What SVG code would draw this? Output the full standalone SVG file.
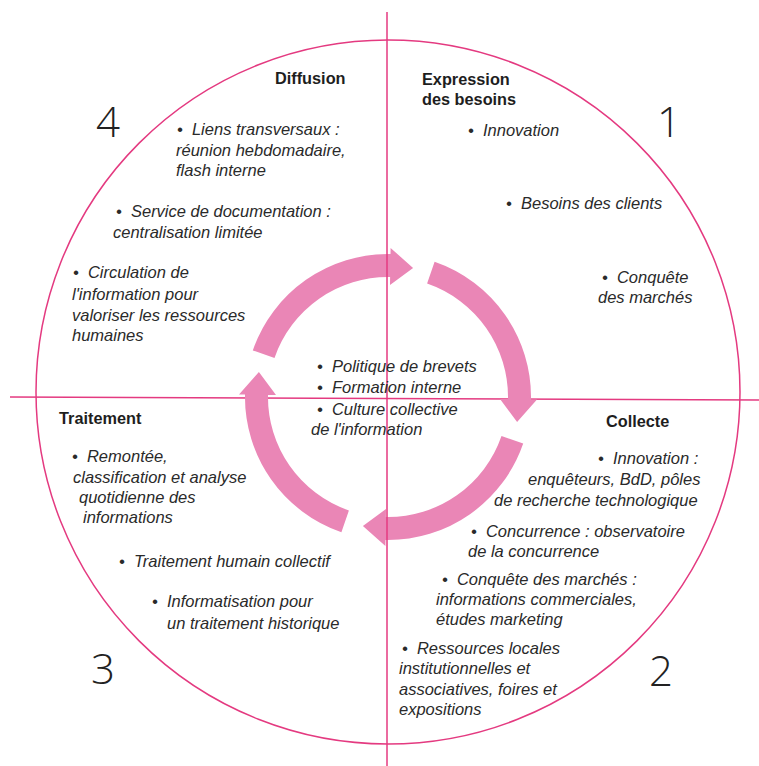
<svg xmlns="http://www.w3.org/2000/svg" xmlns:xlink="http://www.w3.org/1999/xlink" width="759" height="766" viewBox="0 0 759 766">
<style>
.t{font-family:"Liberation Sans",Arial,sans-serif;font-size:16.5px;font-style:italic;fill:#2a2a2a}
.h{font-family:"Liberation Sans",Arial,sans-serif;font-size:16.3px;font-weight:bold;fill:#1e1e1e}
.n{font-family:"Open Sans","Liberation Sans",sans-serif;font-size:42px;font-weight:300;fill:#222}
.ln{stroke:#e43a80;stroke-width:1.5;fill:none}
.arr{fill:#ea86b6}
</style>
<defs>
<path id="arr" d="M 252.8 350.4 A 143 143 0 0 1 390.5 254.0 L 390.6 248.0 L 413.1 267.9 L 390.0 285.0 L 390.1 277.0 A 120 120 0 0 0 274.5 357.9 Z"/>
</defs>
<rect width="759" height="766" fill="#fff"/>
<g id="frame">
<circle class="ln" cx="388" cy="392" r="352"/>
<line class="ln" x1="10" y1="397" x2="759" y2="400"/>
</g>
<g id="connectors">
<use xlink:href="#arr" class="arr"/>
<use xlink:href="#arr" class="arr" transform="rotate(90 388 397)"/>
<use xlink:href="#arr" class="arr" transform="rotate(180 388 397)"/>
<use xlink:href="#arr" class="arr" transform="rotate(270 388 397)"/>
</g>
<g id="axis">
<line class="ln" x1="387" y1="12" x2="387" y2="766"/>
</g>
<g id="q1">
<text class="h" x="422" y="85">Expression</text>
<text class="h" x="422" y="105">des besoins</text>
<text class="n" x="657" y="137">1</text>
<text class="t" x="468" y="136" xml:space="preserve">•  Innovation</text>
<text class="t" x="506" y="209" xml:space="preserve">•  Besoins des clients</text>
<text class="t" x="602" y="283" xml:space="preserve">•  Conquête</text>
<text class="t" x="598" y="303">des marchés</text>
</g>
<g id="q2">
<text class="h" x="606" y="427">Collecte</text>
<text class="n" x="649" y="686">2</text>
<text class="t" x="598" y="464" xml:space="preserve">•  Innovation :</text>
<text class="t" x="528" y="485">enquêteurs, BdD, pôles</text>
<text class="t" x="494" y="506">de recherche technologique</text>
<text class="t" x="471" y="537" xml:space="preserve">•  Concurrence : observatoire</text>
<text class="t" x="468" y="557">de la concurrence</text>
<text class="t" x="442" y="585" xml:space="preserve">•  Conquête des marchés :</text>
<text class="t" x="436" y="605">informations commerciales,</text>
<text class="t" x="436" y="625">études marketing</text>
<text class="t" x="402" y="654" xml:space="preserve">•  Ressources locales</text>
<text class="t" x="399" y="674">institutionnelles et</text>
<text class="t" x="399" y="695">associatives, foires et</text>
<text class="t" x="399" y="715">expositions</text>
</g>
<g id="q3">
<text class="h" x="59" y="424">Traitement</text>
<text class="n" x="91" y="684">3</text>
<text class="t" x="72" y="462" xml:space="preserve">•  Remontée,</text>
<text class="t" x="73" y="483">classification et analyse</text>
<text class="t" x="79" y="503">quotidienne des</text>
<text class="t" x="83" y="523">informations</text>
<text class="t" x="119" y="567" xml:space="preserve">•  Traitement humain collectif</text>
<text class="t" x="152" y="607" xml:space="preserve">•  Informatisation pour</text>
<text class="t" x="167" y="629">un traitement historique</text>
</g>
<g id="q4">
<text class="h" x="275" y="84">Diffusion</text>
<text class="n" x="96" y="137">4</text>
<text class="t" x="177" y="135" xml:space="preserve">•  Liens transversaux :</text>
<text class="t" x="176" y="156">réunion hebdomadaire,</text>
<text class="t" x="176" y="176">flash interne</text>
<text class="t" x="116" y="217" xml:space="preserve">•  Service de documentation :</text>
<text class="t" x="113" y="238">centralisation limitée</text>
<text class="t" x="73" y="278" xml:space="preserve">•  Circulation de</text>
<text class="t" x="72" y="300">l'information pour</text>
<text class="t" x="72" y="321">valoriser les ressources</text>
<text class="t" x="72" y="341">humaines</text>
</g>
<g id="center">
<text class="t" x="317" y="372" xml:space="preserve">•  Politique de brevets</text>
<text class="t" x="317" y="393" xml:space="preserve">•  Formation interne</text>
<text class="t" x="317" y="415" xml:space="preserve">•  Culture collective</text>
<text class="t" x="311" y="435">de l'information</text>
</g>
</svg>
